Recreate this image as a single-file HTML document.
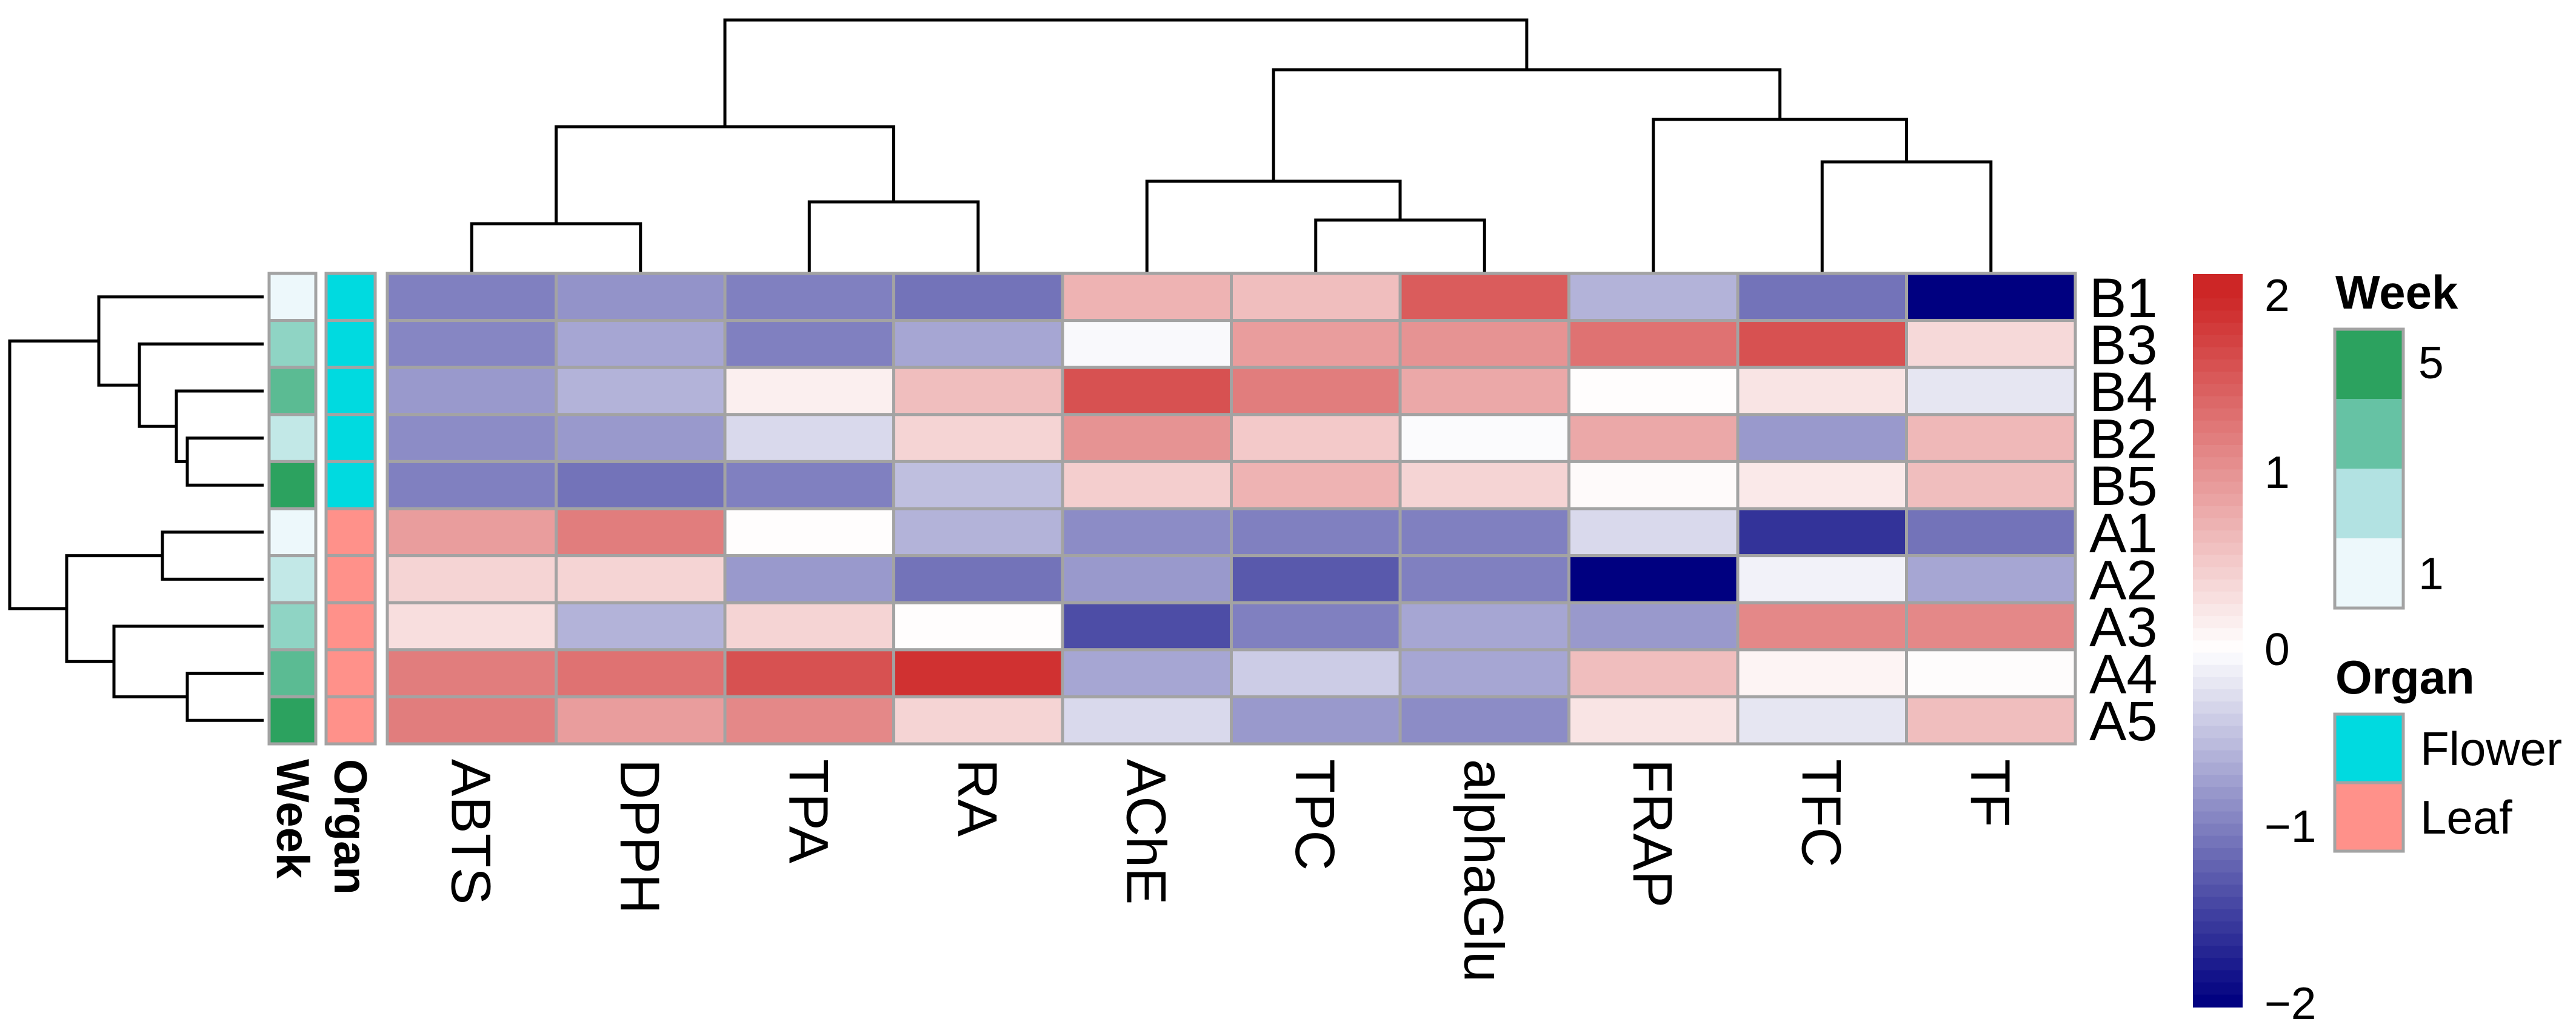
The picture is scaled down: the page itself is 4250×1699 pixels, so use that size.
<!DOCTYPE html>
<html><head><meta charset="utf-8"><style>html,body{margin:0;padding:0;background:#fff}svg{display:block}text{font-family:"Liberation Sans",sans-serif}</style></head>
<body>
<svg id="chart" width="4250" height="1699" viewBox="0 0 4250 1699" xmlns="http://www.w3.org/2000/svg">
<g id="dendro"></g>
<g id="annot"></g>
<g id="cells"></g>
<g id="labels"></g>
<g id="legend"></g>
</svg>
<script>
const columns = ["ABTS","DPPH","TPA","RA","AChE","TPC","alphaGlu","FRAP","TFC","TF"];
const rows = ["B1","B3","B4","B2","B5","A1","A2","A3","A4","A5"];
const rowB1 = [-1.0,-0.85,-1.0,-1.1,0.7,0.6,1.5,-0.6,-1.1,-2.0];
const rowB3 = [-0.95,-0.7,-1.0,-0.7,-0.05,0.9,1.0,1.3,1.6,0.35];
const rowB4 = [-0.8,-0.6,0.15,0.6,1.6,1.2,0.8,0.02,0.25,-0.2];
const rowB2 = [-0.9,-0.8,-0.3,0.4,1.0,0.5,-0.03,0.8,-0.8,0.65];
const rowB5 = [-1.0,-1.1,-1.0,-0.5,0.45,0.7,0.4,0.05,0.2,0.6];
const rowA1 = [0.9,1.2,0.02,-0.6,-0.9,-1.0,-1.0,-0.3,-1.6,-1.1];
const rowA2 = [0.4,0.4,-0.8,-1.1,-0.8,-1.3,-1.0,-2.0,-0.1,-0.7];
const rowA3 = [0.3,-0.6,0.4,0.02,-1.4,-1.0,-0.7,-0.8,1.1,1.1];
const rowA4 = [1.2,1.3,1.6,1.9,-0.7,-0.4,-0.7,0.6,0.1,0.03];
const rowA5 = [1.2,0.9,1.1,0.4,-0.3,-0.8,-0.9,0.25,-0.2,0.6];
const values = [rowB1,rowB3,rowB4,rowB2,rowB5,rowA1,rowA2,rowA3,rowA4,rowA5];
const weeks = [1,3,4,2,5,1,2,3,4,5];
const organs = ["Flower","Flower","Flower","Flower","Flower","Leaf","Leaf","Leaf","Leaf","Leaf"];
const colorTicks = [2,1,0,-1,-2];
const weekLegend = [5,4,3,2,1];
const weekTickLabels = [5,1];
const organLegend = ["Flower","Leaf"];
// merges: negative = leaf index (-(i+1)), positive = merge number (1-based); third = height
const colMerges = [[-1,-2,0.82],[-6,-7,0.88],[-3,-4,1.18],[-9,-10,1.84],[-5,2,1.52],[1,3,2.42],[-8,4,2.54],[5,7,3.36],[6,8,4.18]];
const rowMerges = [[-4,-5,1.26],[-9,-10,1.26],[-3,1,1.44],[-6,-7,1.67],[-2,3,2.05],[-8,2,2.47],[-1,5,2.72],[4,6,3.25],[7,8,4.19]];

const NS="http://www.w3.org/2000/svg";
function mk(parent,tag,attrs){const e=document.createElementNS(NS,tag);for(const k in attrs)e.setAttribute(k,attrs[k]);parent.appendChild(e);return e;}
const X0=639, CW=278.5, Y0=451, RH=77.6, GRID="#A3A3A3";
const xCol=i=>X0+i*CW, yRow=i=>Y0+i*RH;
function lerp(a,b,t){return a.map((v,i)=>Math.round(v+(b[i]-v)*t));}
function color(v){v=Math.max(-2,Math.min(2,v));const w=[255,255,255];
 const c=v>=0?lerp(w,[205,38,38],v/2):lerp(w,[0,0,128],-v/2);return `rgb(${c[0]},${c[1]},${c[2]})`;}
const weekColors={1:"#EDF8FB",2:"#C2E8E7",3:"#8FD4C4",4:"#5BBB93",5:"#2CA25F"};
const weekLegColors={5:"#2CA25F",4:"#66C2A4",3:"#B2E2E2",2:"#EDF8FB",1:"#EDF8FB"};
const organColors={Flower:"#00DAE0",Leaf:"#FF918A"};

// cells
const cells=document.getElementById('cells');
values.forEach((r,i)=>r.forEach((v,j)=>{
 const c=mk(cells,'rect',{x:xCol(j),y:yRow(i),width:CW,height:RH,fill:color(v),stroke:GRID,'stroke-width':5});
 
 
}));
const ob=mk(cells,'rect',{x:X0,y:Y0,width:CW*10,height:RH*10,fill:'none',stroke:GRID,'stroke-width':5});



// annotations
const an=document.getElementById('annot');
rows.forEach((r,i)=>{
 const a=mk(an,'rect',{x:444,y:yRow(i),width:77,height:RH,fill:weekColors[weeks[i]],stroke:GRID,'stroke-width':5});
 
 
 const b=mk(an,'rect',{x:538,y:yRow(i),width:81,height:RH,fill:organColors[organs[i]],stroke:GRID,'stroke-width':5});
 
 
});

// dendrograms
const dg=document.getElementById('dendro');
function dendro(merges,leafPos,hToCoord,vertical,name){
 const pos=[],hh=[];
 merges.forEach((m,k)=>{
  const get=idx=>idx<0?[leafPos(-idx-1),hToCoord(0)]:[pos[idx-1],hToCoord(hh[idx-1])];
  const a=get(m[0]),b=get(m[1]),h=hToCoord(m[2]);
  let d;
  if(vertical) d=`M${a[0]},${a[1]}V${h}H${b[0]}V${b[1]}`;
  else d=`M${a[1]},${a[0]}H${h}V${b[0]}H${b[1]}`;
  const p=mk(dg,'path',{d:d,fill:'none',stroke:'#000','stroke-width':5});
  
  
  pos.push((a[0]+b[0])/2);hh.push(m[2]);
 });
}
dendro(colMerges,i=>xCol(i)+CW/2,h=>Y0-h*100,true,'column-dendrogram');
dendro(rowMerges,i=>yRow(i)+RH/2,h=>435-h*100,false,'row-dendrogram');

// labels
const lb=document.getElementById('labels');
rows.forEach((r,i)=>{
 const t=mk(lb,'text',{x:3447,y:yRow(i)+RH/2+33,'font-size':92});t.textContent=r;
 
 
});
columns.forEach((c,j)=>{
 const cx=xCol(j)+CW/2;
 const t=mk(lb,'text',{x:0,y:0,'font-size':92,transform:`translate(${cx-33},1252) rotate(90)`});t.textContent=c;
 
 
});
[["Week",484],["Organ",579]].forEach(([s,x])=>{
 const t=mk(lb,'text',{x:0,y:0,'font-size':76,'font-weight':'bold',transform:`translate(${x-27},1252) rotate(90)`});t.textContent=s;
 
 
});

// legends
const lg=document.getElementById('legend');
const vy=v=>1071-v*292;
const steps=60, vTop=2.12, vBot=-2.02;
for(let s=0;s<steps;s++){
 const v0=vTop-(vTop-vBot)*s/steps, v1=vTop-(vTop-vBot)*(s+1)/steps;
 const r=mk(lg,'rect',{x:3618,y:vy(v0),width:82,height:vy(v1)-vy(v0)+1,fill:color((v0+v1)/2)});
 
 
}
colorTicks.forEach(v=>{
 const t=mk(lg,'text',{x:3736,y:vy(v)+26,'font-size':75});t.textContent=v<0?'\u2212'+(-v):String(v);
 
 
});
let t=mk(lg,'text',{x:3853,y:509,'font-size':78,'font-weight':'bold'});t.textContent='Week';


weekLegend.slice(0,4).forEach((w,k)=>{
 const r=mk(lg,'rect',{x:3852,y:543+k*115,width:113,height:115,fill:weekLegColors[w]});
 
 
});
let wb=mk(lg,'rect',{x:3852,y:543,width:113,height:460,fill:'none',stroke:GRID,'stroke-width':5});


weekTickLabels.forEach((w,k)=>{
 const tt=mk(lg,'text',{x:3990,y:k===0?624:972,'font-size':75});tt.textContent=String(w);
 
 
});
t=mk(lg,'text',{x:3853,y:1144,'font-size':78,'font-weight':'bold'});t.textContent='Organ';


organLegend.forEach((o,k)=>{
 const r=mk(lg,'rect',{x:3852,y:1178+k*113,width:113,height:113,fill:organColors[o],stroke:GRID,'stroke-width':5});
 
 
 const tt=mk(lg,'text',{x:3993,y:1262+k*113,'font-size':78});tt.textContent=o;
 
 
});
</script>
</body></html>
